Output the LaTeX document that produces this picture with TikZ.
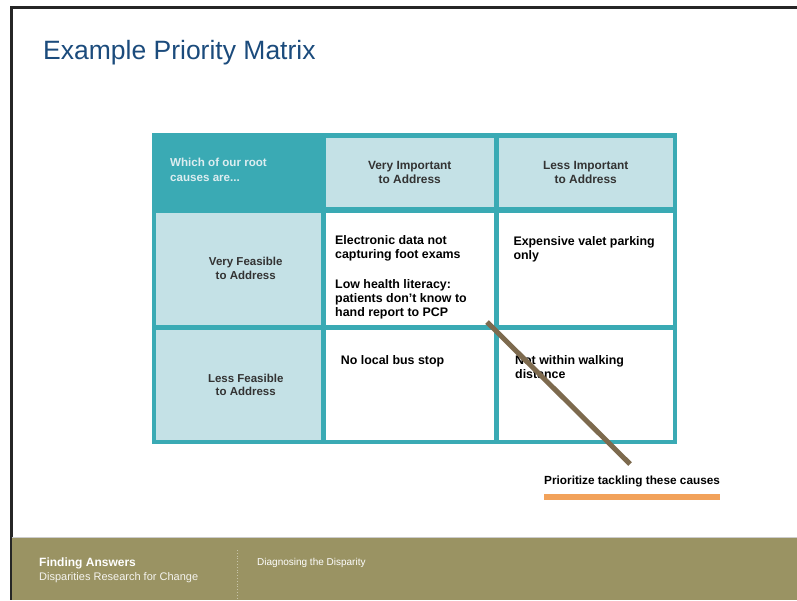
\documentclass[tikz,border=0pt]{standalone}
\usepackage{fontspec}
\setmainfont{Liberation Sans}
\usetikzlibrary{positioning,fit,backgrounds}

\definecolor{mtxteal}{HTML}{3AAAB4}
\definecolor{mtxpale}{HTML}{C4E1E6}
\definecolor{titleblue}{HTML}{1B4B7C}
\definecolor{footolive}{HTML}{9A9363}
\definecolor{barorange}{HTML}{F2A25A}
\definecolor{prioBrown}{HTML}{7D6A4E}
\definecolor{headgray}{HTML}{333333}

\begin{document}
\begin{tikzpicture}[x=1pt, y=-1pt, node distance=5.5pt,
    cell/.style={rectangle, inner sep=0pt, outer sep=0pt},
    col1/.style={minimum width=164.5pt},
    col2/.style={minimum width=167.5pt},
    col3/.style={minimum width=173.5pt},
    row0/.style={minimum height=69.5pt},
    row1/.style={minimum height=112pt},
    row2/.style={minimum height=109.5pt},
    headtext/.style={align=center, text=headgray,
        font=\fontsize{11.9pt}{14.2pt}\selectfont\bfseries},
    rowtext/.style={inner sep=0pt, align=center, text=headgray,
        font=\fontsize{11.5pt}{13.5pt}\selectfont\bfseries},
    causetext/.style={inner sep=0pt, align=left, text=black,
        font=\fontsize{12.4pt}{14pt}\selectfont\bfseries},
    prioline/.style={draw=prioBrown, line width=5pt},
    foottext/.style={inner sep=0pt, text=white}]

  \useasboundingbox (0,0) rectangle (797,600);

  % slide frame
  \draw[line width=3pt, black!85] (797,7.5) -- (11,7.5) -- (11,600);
  \node[anchor=base west, inner sep=0pt, text=titleblue,
        font=\fontsize{26.5pt}{30pt}\selectfont] (title) at (43,59.5) {Example Priority Matrix};

  % header row
  \node[cell, col1, row0, fill=mtxteal, anchor=north west] (h0) at (156,137.5) {};
  \node[cell, col2, row0, fill=mtxpale, headtext, right=of h0] (h1) {Very Important\\to Address};
  \node[cell, col3, row0, fill=mtxpale, headtext, right=of h1] (h2) {Less Important\\to Address};
  \node[inner sep=0pt, align=left, text=mtxpale!60!white,
        font=\fontsize{11.6pt}{14.3pt}\selectfont\bfseries,
        below right=20.8pt and 14pt of h0.north west] (which) {Which of our root\\causes are...};

  % very feasible row
  \node[cell, col1, row1, fill=mtxpale, below=of h0] (c10) {};
  \node[cell, col2, row1, fill=white, right=of c10] (c11) {};
  \node[cell, col3, row1, fill=white, right=of c11] (c12) {};

  % less feasible row
  \node[cell, col1, row2, fill=mtxpale, below=of c10] (c20) {};
  \node[cell, col2, row2, fill=white, right=of c20] (c21) {};
  \node[cell, col3, row2, fill=white, right=of c21] (c22) {};

  \begin{scope}[on background layer]
    \node[cell, fill=mtxteal, inner sep=4.5pt, fit=(h0)(c22)] (matrix) {};
  \end{scope}

  \node[rowtext] (l1) at ([xshift=7.5pt]c10.center) {Very Feasible\\to Address};
  \node[rowtext] (l2) at ([xshift=7.5pt]c20.center) {Less Feasible\\to Address};

  \node[causetext, below right=22.5pt and 9pt of c11.north west] (t11)
    {Electronic data not\\capturing foot exams\\[16.5pt]Low health literacy:\\patients don't know to\\hand report to PCP};
  \node[causetext, below right=24.2pt and 14.3pt of c12.north west] (t12)
    {Expensive valet parking\\only};
  \node[causetext, below right=25.3pt and 14.7pt of c21.north west] (t21)
    {No local bus stop};
  \node[causetext, below right=25pt and 16pt of c22.north west] (t22)
    {Not within walking\\distance};

  % priority line and legend
  \coordinate (prioA) at (487,322);
  \coordinate (prioB) at (630,464);
  \draw[prioline] (prioA) -- (prioB);
  \node[causetext, font=\fontsize{11.8pt}{14pt}\selectfont\bfseries,
        anchor=base west] (legend) at (544,484) {Prioritize tackling these causes};
  \node[cell, fill=barorange, minimum width=176pt, minimum height=6pt,
        anchor=north west] (bar) at (544,494) {};

  % footer
  \fill[footolive] (12,538) rectangle (797,600);
  \draw[black!20, line width=1pt] (12,537.5) -- (797,537.5);
  \draw[footolive!55!white, dotted, line width=0.8pt] (237.7,550) -- (237.7,600);
  \node[foottext, anchor=base west, font=\fontsize{12pt}{13pt}\selectfont\bfseries]
    (brand) at (39,566.7) {Finding Answers};
  \node[foottext, anchor=base west, text=white!90!footolive,
        font=\fontsize{11pt}{13pt}\selectfont] (tagline) at (39,580) {Disparities Research for Change};
  \node[foottext, anchor=base west, font=\fontsize{10pt}{12pt}\selectfont]
    (module) at (257,565) {Diagnosing the Disparity};
\end{tikzpicture}
\end{document}
